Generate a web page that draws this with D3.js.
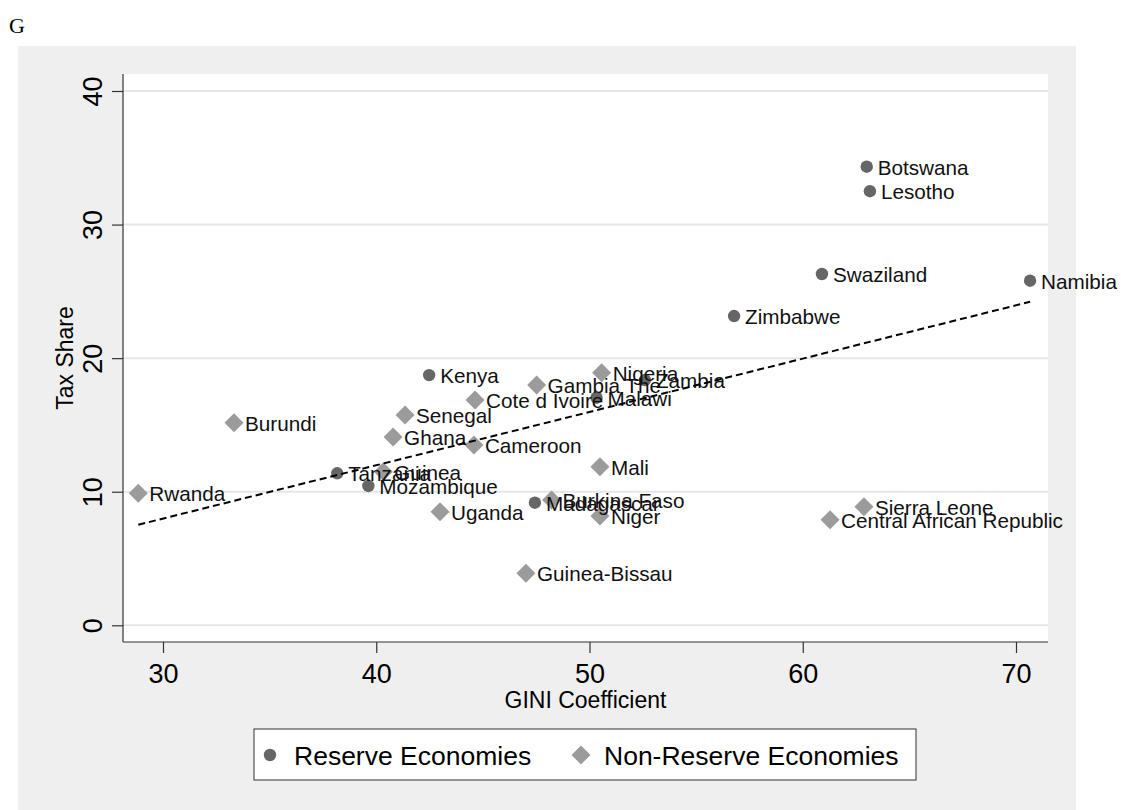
<!DOCTYPE html>
<html>
<head>
<meta charset="utf-8">
<script src="https://cdn.jsdelivr.net/npm/d3@7"></script>
<style>
  body { margin: 0; background: #ffffff; }
  text { font-family: "Liberation Sans", Arial, sans-serif; }
</style>
</head>
<body>
<svg id="chart" width="1121" height="810"></svg>
<script>
// Reserve economies: country, GINI coefficient, tax share
const reserveNames = ["Botswana", "Lesotho", "Swaziland", "Namibia", "Zimbabwe", "Kenya",
  "Zambia", "Malawi", "Tanzania", "Mozambique", "Madagascar"];
const reserveGini = [63.0, 63.15, 60.9, 70.66, 56.78, 42.48, 52.6, 50.33, 38.17, 39.63, 47.44];
const reserveTax  = [34.33, 32.5, 26.3, 25.8, 23.15, 18.73, 18.36, 17.04, 11.38, 10.43, 9.18];

// Non-reserve economies
const nonReserveNames = ["Nigeria", "Gambia The", "Cote d Ivoire", "Senegal", "Burundi", "Ghana",
  "Cameroon", "Mali", "Guinea", "Rwanda", "Burkina Faso", "Uganda", "Niger", "Sierra Leone",
  "Central African Republic", "Guinea-Bissau"];
const nonReserveGini = [50.57, 47.52, 44.63, 41.35, 33.33, 40.79, 44.58, 50.49, 40.33, 28.84,
  48.22, 42.99, 50.49, 62.87, 61.28, 47.02];
const nonReserveTax  = [18.91, 17.99, 16.86, 15.74, 15.17, 14.1, 13.5, 11.87, 11.5, 9.88,
  9.38, 8.5, 8.18, 8.88, 7.9, 3.89];

const xTicks = [30, 40, 50, 60, 70];
const yTicks = [0, 10, 20, 30, 40];
const legendLabels = ["Reserve Economies", "Non-Reserve Economies"];

const svg = d3.select("#chart");

// plot region
const plot = { left: 123, right: 1048, top: 74, bottom: 642 };
const x = d3.scaleLinear().domain([30, 70]).range([163, 1016]);
const y = d3.scaleLinear().domain([0, 40]).range([625.3, 91]);

const darkMarker = "#666666";
const lightMarker = "#9b9b9b";

// outer panel
svg.append("rect").attr("x", 18).attr("y", 46).attr("width", 1058).attr("height", 764)
  .attr("fill", "#efefef");
svg.append("rect").attr("x", plot.left).attr("y", plot.top)
  .attr("width", plot.right - plot.left).attr("height", plot.bottom - plot.top)
  .attr("fill", "#ffffff");

// corner letter
svg.append("text").attr("x", 9).attr("y", 33)
  .style("font-family", "'Liberation Serif', 'Times New Roman', serif")
  .style("font-size", "22px").attr("fill", "#000").text("G");

// horizontal grid
svg.append("g").selectAll("line").data(yTicks).join("line")
  .attr("x1", plot.left).attr("x2", plot.right)
  .attr("y1", d => y(d)).attr("y2", d => y(d))
  .attr("stroke", "#e6e6e6").attr("stroke-width", 2);

// y axis
const yAxis = svg.append("g").attr("transform", `translate(${plot.left},0)`)
  .call(d3.axisLeft(y).tickValues(yTicks).tickSize(11).tickPadding(0).tickFormat(d3.format("d")));
yAxis.select(".domain").remove();
yAxis.selectAll(".tick line").attr("stroke", "#333").attr("stroke-width", 1.2);
yAxis.selectAll(".tick text")
  .attr("x", 0).attr("y", 0).attr("dy", null)
  .attr("transform", "translate(-21,0) rotate(-90)")
  .attr("text-anchor", "middle")
  .style("font-size", "27px").attr("fill", "#000");

// x axis
const xAxis = svg.append("g").attr("transform", `translate(0,${plot.bottom})`)
  .call(d3.axisBottom(x).tickValues(xTicks).tickSize(11).tickPadding(0).tickFormat(d3.format("d")));
xAxis.select(".domain").remove();
xAxis.selectAll(".tick line").attr("stroke", "#333").attr("stroke-width", 1.2);
xAxis.selectAll(".tick text").attr("y", 41).attr("dy", null)
  .style("font-size", "27px").attr("fill", "#000");

// axis lines
svg.append("line").attr("x1", plot.left).attr("x2", plot.left)
  .attr("y1", plot.top).attr("y2", plot.bottom).attr("stroke", "#333").attr("stroke-width", 1.2);
svg.append("line").attr("x1", plot.left).attr("x2", plot.right)
  .attr("y1", plot.bottom).attr("y2", plot.bottom).attr("stroke", "#333").attr("stroke-width", 1.2);

// axis titles
svg.append("text").attr("transform", `translate(73,${(plot.top + plot.bottom) / 2}) rotate(-90)`)
  .attr("text-anchor", "middle").style("font-size", "23px").attr("fill", "#000").text("Tax Share");
svg.append("text").attr("x", (plot.left + plot.right) / 2).attr("y", 708)
  .attr("text-anchor", "middle").style("font-size", "23px").attr("fill", "#000").text("GINI Coefficient");

// data rows
const reserve = reserveNames.map((n, i) => ({ name: n, gini: reserveGini[i], tax: reserveTax[i] }));
const nonReserve = nonReserveNames.map((n, i) => ({ name: n, gini: nonReserveGini[i], tax: nonReserveTax[i] }));

const circleSym = d3.symbol().type(d3.symbolCircle).size(Math.PI * 6.2 * 6.2);
const diamondPath = r => `M0,${-r}L${r},0L0,${r}L${-r},0Z`;

const gMarks = svg.append("g");
gMarks.selectAll("path.res").data(reserve).join("path").attr("class", "res")
  .attr("d", circleSym).attr("transform", d => `translate(${x(d.gini)},${y(d.tax)})`)
  .attr("fill", darkMarker);
gMarks.selectAll("path.non").data(nonReserve).join("path").attr("class", "non")
  .attr("d", diamondPath(9.5)).attr("transform", d => `translate(${x(d.gini)},${y(d.tax)})`)
  .attr("fill", lightMarker);

// marker labels
const gLabels = svg.append("g");
gLabels.selectAll("text").data(reserve.concat(nonReserve)).join("text")
  .attr("x", d => x(d.gini) + 11).attr("y", d => y(d.tax) + 8)
  .style("font-size", "20.7px").attr("fill", "#111").text(d => d.name);

// linear fit over all economies
const all = reserve.concat(nonReserve);
const mx = d3.mean(all, d => d.gini), my = d3.mean(all, d => d.tax);
const slope = d3.sum(all, d => (d.gini - mx) * (d.tax - my)) / d3.sum(all, d => (d.gini - mx) ** 2);
const intercept = my - slope * mx;
const [gMin, gMax] = d3.extent(all, d => d.gini);
svg.append("path")
  .datum([gMin, gMax])
  .attr("d", d3.line().x(d => x(d)).y(d => y(intercept + slope * d)))
  .attr("fill", "none").attr("stroke", "#000").attr("stroke-width", 2)
  .attr("stroke-dasharray", "7,4");

// legend
const legend = svg.append("g");
legend.append("rect").attr("x", 254).attr("y", 729).attr("width", 662).attr("height", 51)
  .attr("fill", "#fff").attr("stroke", "#333").attr("stroke-width", 1);
legend.append("path").attr("d", circleSym).attr("transform", "translate(270,755)").attr("fill", darkMarker);
legend.append("text").attr("x", 294).attr("y", 765).style("font-size", "26.5px").attr("fill", "#000")
  .text(legendLabels[0]);
legend.append("path").attr("d", diamondPath(9.5)).attr("transform", "translate(581,755)").attr("fill", lightMarker);
legend.append("text").attr("x", 604).attr("y", 765).style("font-size", "26.5px").attr("fill", "#000")
  .text(legendLabels[1]);
</script>
</body>
</html>
